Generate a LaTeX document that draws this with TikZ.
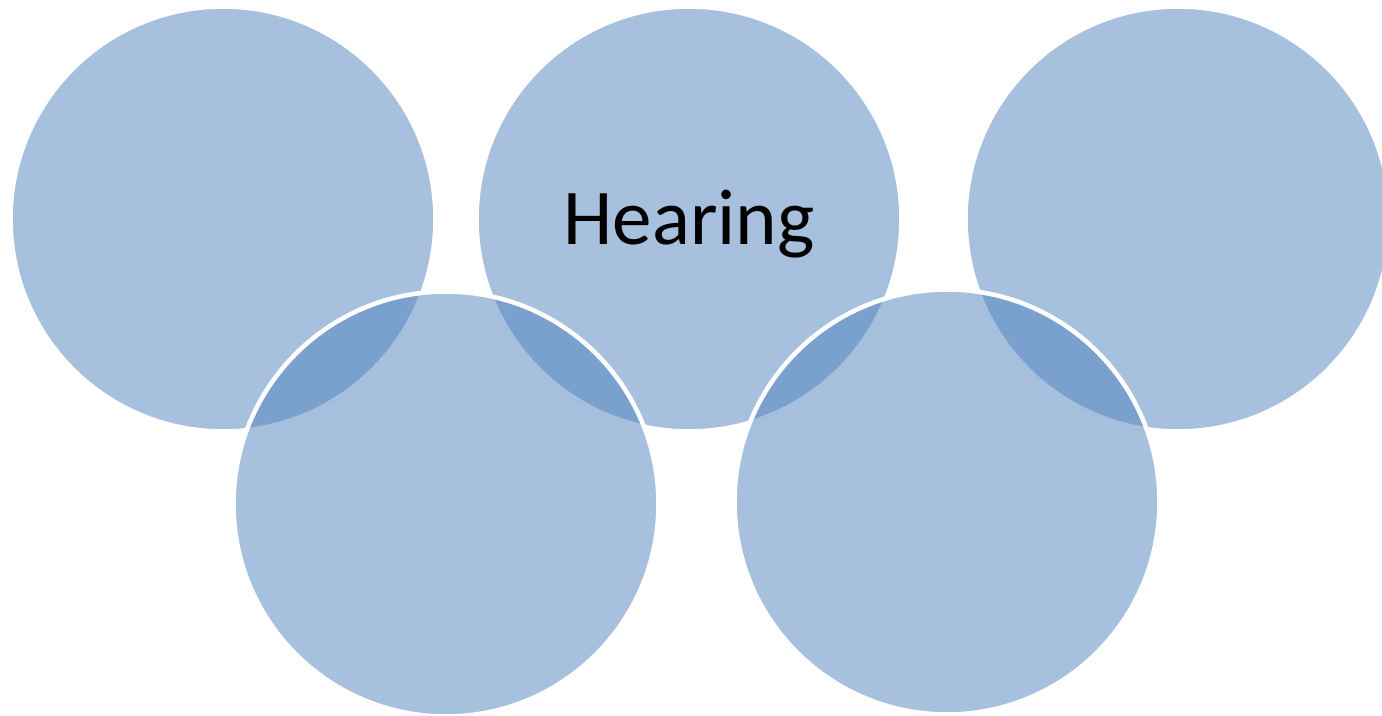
\documentclass[tikz,border=0pt]{standalone}
\usepackage{fontspec}
\setmainfont{Carlito}
\usepackage{tikz}
\usetikzlibrary{positioning}
\definecolor{ringblue}{HTML}{4F81BD}
\tikzset{
  ring/.style={circle, draw=white, line width=0.09cm, fill=ringblue, fill opacity=0.5, draw opacity=1, text opacity=1, minimum size=8.5cm, inner sep=0pt},
  ringlabel/.style={font=\fontsize{45}{50}\selectfont, text=black}
}
\begin{document}
\begin{tikzpicture}[x=0.02cm, y=-0.02cm]
  \useasboundingbox (0,0) rectangle (1382,716);
  \clip (0,0) rectangle (1382,716);
  % top row
  \node[ring] (top1) at (223,219) {};
  \node[ring] (hearing) at (689,219) {};
  \node[ring] (top3) at (1178,219) {};
  % bottom row
  \node[ring] (bot1) at (446,504) {};
  \node[ring] (bot2) at (947,502) {};
  \node[ringlabel] (lbl) at ([yshift=-0.1cm]hearing.center) {Hearing};
\end{tikzpicture}
\end{document}
